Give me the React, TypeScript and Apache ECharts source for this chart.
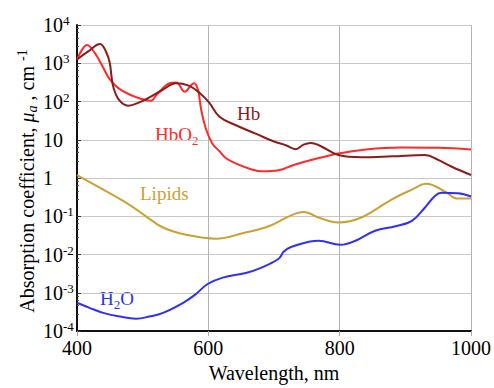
import React, { useEffect, useRef } from 'react';
import * as echarts from 'echarts';

// ---- Data ----
const hbo2Wl = [400, 408, 415, 427, 440, 450, 465, 490, 513, 521, 541, 551, 564, 574, 578, 584, 589, 596, 606, 617, 627, 647, 665, 682, 707, 730, 758, 798, 840, 894, 950, 1000];
const hbo2Val = [1250, 2300, 3000, 1860, 760, 380, 210, 130, 105, 148, 300, 316, 180, 270, 300, 210, 63, 20, 8, 5, 3.3, 2.2, 1.7, 1.5, 1.6, 2.2, 3.0, 4.4, 5.6, 6.3, 6.2, 5.6];

const hbWl = [400, 417, 435, 445, 450, 452.5, 455, 463, 478, 495, 511, 530, 551, 570, 586, 601, 617, 642, 672, 700, 718, 733, 745, 756, 770, 798, 833, 880, 930, 950, 970, 1000];
const hbVal = [1250, 2040, 3200, 1860, 1000, 465, 250, 116, 78, 95, 130, 200, 300, 260, 173, 95, 40, 24, 14.5, 9, 7.2, 5.7, 7.5, 8.3, 7, 4.0, 3.5, 3.7, 4.0, 3.0, 2.0, 1.2];

const lipidWl = [400, 440, 480, 505, 531, 566, 612, 652, 692, 723, 745, 770, 798, 833, 879, 910, 932, 960, 980, 1000];
const lipidVal = [1.2, 0.5, 0.2, 0.1, 0.051, 0.033, 0.026, 0.036, 0.055, 0.1, 0.13, 0.09, 0.069, 0.093, 0.275, 0.5, 0.71, 0.45, 0.29, 0.29];

const waterWl = [400, 420, 440, 465, 490, 510, 531, 561, 580, 599, 622, 657, 680, 707, 715, 725, 768, 801, 824, 854, 885, 910, 930, 945, 955, 980, 1000];
const waterVal = [5.5e-4, 4e-4, 3e-4, 2.4e-4, 2.1e-4, 2.4e-4, 3e-4, 5.4e-4, 9e-4, 1.7e-3, 2.5e-3, 3.3e-3, 4.5e-3, 7.8e-3, 0.012, 0.0156, 0.023, 0.018, 0.023, 0.042, 0.055, 0.076, 0.17, 0.34, 0.41, 0.4, 0.33];

const xTicks = [400, 600, 800, 1000];
const yTickExponents = [-4, -3, -2, -1, 0, 1, 2, 3, 4];

const FONT = 'Liberation Serif';

const pair = (xs: number[], ys: number[]) => xs.map((x, i) => [x, ys[i]]);

export default function App() {
  const ref = useRef<HTMLDivElement>(null);
  useEffect(() => {
    if (!ref.current) return;
    const chart = echarts.init(ref.current, undefined, { renderer: 'svg' });
    const yLabel = (v: number) => {
      const e = Math.round(Math.log10(v));
      if (!yTickExponents.includes(e)) return '';
      if (e === 0) return '1';
      if (e === 1) return '10';
      return `{b|10}{s|${e}}`;
    };
    chart.setOption({
      animation: false,
      grid: { left: 77, right: 21, top: 25, bottom: 53, containLabel: false },
      xAxis: {
        type: 'value',
        min: xTicks[0],
        max: xTicks[xTicks.length - 1],
        interval: 200,
        name: 'Wavelength, nm',
        nameLocation: 'middle',
        nameGap: 25,
        nameTextStyle: { fontFamily: FONT, fontSize: 20, color: '#000' },
        axisLine: { show: true, lineStyle: { color: '#111', width: 2 } },
        axisTick: { show: true, length: 5, lineStyle: { color: '#aaa' } },
        axisLabel: { formatter: (v: number) => String(v), fontFamily: FONT, fontSize: 20, color: '#000', margin: 7 },
        splitLine: { show: true, lineStyle: { color: '#b4b4b4', width: 1 } },
      },
      yAxis: {
        type: 'log',
        logBase: 10,
        min: Math.pow(10, yTickExponents[0]),
        max: Math.pow(10, yTickExponents[yTickExponents.length - 1]),
        splitNumber: 8,
        axisLine: { show: true, lineStyle: { color: '#111', width: 2 } },
        axisTick: { show: true, inside: true, length: 4, lineStyle: { color: '#333' } },
        minorTick: { show: true, splitNumber: 5, length: 2, lineStyle: { color: '#555' } },
        axisLabel: {
          formatter: yLabel,
          align: 'left',
          margin: 34,
          fontFamily: FONT,
          fontSize: 20,
          color: '#000',
          rich: {
            b: { fontFamily: FONT, fontSize: 20, color: '#000', lineHeight: 22 },
            s: { fontFamily: FONT, fontSize: 13, color: '#000', verticalAlign: 'top', lineHeight: 22 },
          },
        },
        splitLine: { show: true, lineStyle: { color: '#c8c8c8', width: 1 } },
      },
      series: [
        { name: 'Lipids', type: 'line', data: pair(lipidWl, lipidVal), smooth: 0.4, showSymbol: false, lineStyle: { color: '#c9a233', width: 2 }, z: 2 },
        { name: 'H2O', type: 'line', data: pair(waterWl, waterVal), smooth: 0.4, showSymbol: false, lineStyle: { color: '#3030f5', width: 2 }, z: 2 },
        { name: 'HbO2', type: 'line', data: pair(hbo2Wl, hbo2Val), smooth: 0.4, showSymbol: false, lineStyle: { color: '#ff2a2a', width: 2 }, z: 3 },
        { name: 'Hb', type: 'line', data: pair(hbWl, hbVal), smooth: 0.4, showSymbol: false, lineStyle: { color: '#8b1c1c', width: 2 }, z: 4 },
      ],
      graphic: [
        {
          type: 'text', x: 27, y: 181, rotation: Math.PI / 2,
          style: {
            text: 'Absorption coefficient, {mu|μ}{sub|a} , cm {sup|-1}',
            fontFamily: FONT, fontSize: 20, fill: '#000', align: 'center', verticalAlign: 'middle',
            rich: {
              mu: { fontFamily: FONT, fontSize: 20, fontStyle: 'italic', fill: '#000', lineHeight: 24 },
              sub: { fontFamily: FONT, fontSize: 14, fontStyle: 'italic', fill: '#000', verticalAlign: 'bottom', lineHeight: 24 },
              sup: { fontFamily: FONT, fontSize: 14, fill: '#000', verticalAlign: 'top', lineHeight: 24 },
            },
          },
        },
        { type: 'text', x: 237, y: 113, style: { text: 'Hb', fontFamily: FONT, fontSize: 19, fill: '#8b1c1c', align: 'left', verticalAlign: 'middle' } },
        {
          type: 'text', x: 155, y: 134,
          style: {
            text: 'HbO{s|2}', fontFamily: FONT, fontSize: 19, fill: '#ff2a2a', align: 'left', verticalAlign: 'middle',
            rich: { s: { fontFamily: FONT, fontSize: 13, fill: '#ff2a2a', verticalAlign: 'bottom', lineHeight: 26 } },
          },
        },
        { type: 'text', x: 140, y: 193, style: { text: 'Lipids', fontFamily: FONT, fontSize: 19, fill: '#c9a233', align: 'left', verticalAlign: 'middle' } },
        {
          type: 'text', x: 100, y: 298,
          style: {
            text: 'H{s|2}O', fontFamily: FONT, fontSize: 19, fill: '#3030f5', align: 'left', verticalAlign: 'middle',
            rich: { s: { fontFamily: FONT, fontSize: 13, fill: '#3030f5', verticalAlign: 'bottom', lineHeight: 26 } },
          },
        },
      ],
    });
    return () => chart.dispose();
  }, []);
  return <div ref={ref} style={{ position: 'fixed', left: 0, top: 0, width: 494, height: 388, background: '#fff' }} />;
}
